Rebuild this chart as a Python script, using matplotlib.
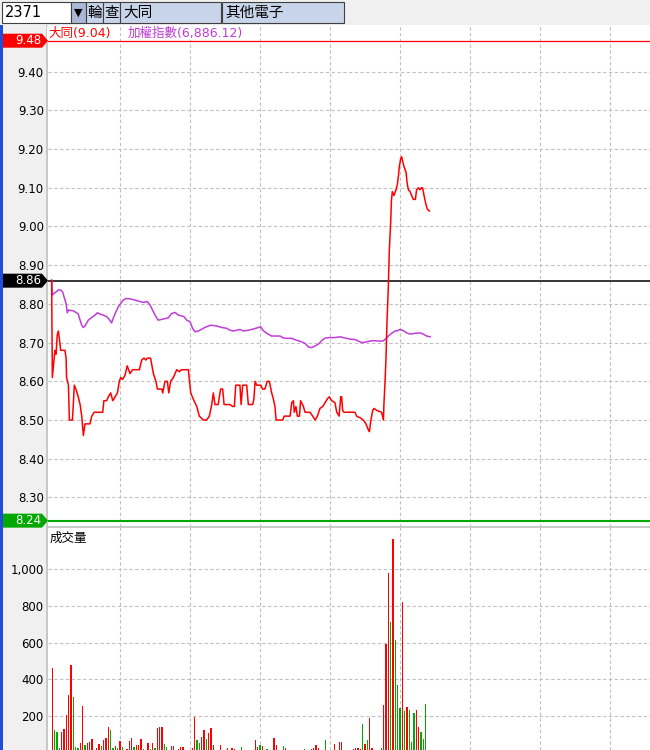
import matplotlib.pyplot as plt
from matplotlib.patches import Rectangle, Polygon
from matplotlib.lines import Line2D
from matplotlib.transforms import blended_transform_factory

plt.rcParams['font.family'] = ['DejaVu Sans', 'Noto Sans CJK TC']

W, H = 650, 750

# --- données (minutes depuis 9:00) ---
PREV_CLOSE = 8.86
LIMIT_UP = 9.48
LIMIT_DOWN = 8.24

TATUNG_MIN = [0.7, 1.0, 2.1, 2.6, 3.1, 3.6, 4.0, 4.6, 6.4, 6.9, 7.1, 7.9, 8.3, 9.6, 10.0, 10.4,
              11.1, 12.1, 12.9, 13.6, 14.0, 14.3, 15.0, 17.1, 17.9, 18.9, 22.6, 23.1, 24.3, 25.0,
              26.0, 26.9, 27.9, 28.9, 29.7, 30.3, 31.1, 32.1, 33.1, 34.3, 35.4, 38.3, 39.3, 40.3,
              41.1, 41.7, 43.1, 44.3, 45.4, 46.0, 47.9, 48.3, 49.3, 50.3, 50.9, 51.7, 52.9, 54.3,
              55.4, 56.4, 59.3, 60.3, 61.7, 62.9, 64.0, 65.7, 67.1, 68.3, 69.3, 70.0, 70.7, 72.1,
              73.1, 74.0, 74.6, 77.1, 78.3, 79.0, 79.6, 81.4, 81.9, 82.6, 84.3, 85.0, 86.9, 87.4,
              87.9, 88.6, 90.3, 91.1, 92.1, 93.1, 94.0, 95.0, 95.7, 96.4, 96.9, 99.7, 100.4, 102.9,
              103.6, 104.3, 104.7, 105.4, 106.0, 106.9, 107.4, 108.6, 109.3, 111.4, 112.6, 113.6,
              114.6, 115.7, 116.9, 117.9, 118.9, 119.7, 120.7, 122.1, 122.9, 123.9, 124.6, 125.0,
              125.4, 126.0, 130.7, 131.4, 133.1, 134.3, 135.4, 136.4, 136.9, 137.4, 138.3, 138.9,
              140.0, 142.1, 142.9, 143.1, 143.6, 144.0, 144.4, 145.0, 145.4, 146.0, 146.3, 146.7,
              147.4, 148.3, 148.9, 149.4, 149.7, 150.3, 150.7, 151.1, 151.7, 152.6, 153.1, 153.6,
              154.3, 155.0, 155.7, 156.6, 157.1, 157.9, 158.6, 159.3, 159.7, 160.3, 161.0, 161.7,
              162.6]
TATUNG_PRICE = [8.86, 8.61, 8.68, 8.67, 8.72, 8.73, 8.71, 8.68, 8.68, 8.66, 8.61, 8.59, 8.50, 8.50,
                8.54, 8.59, 8.58, 8.56, 8.54, 8.51, 8.48, 8.46, 8.49, 8.49, 8.51, 8.52, 8.52, 8.55,
                8.55, 8.56, 8.57, 8.55, 8.56, 8.57, 8.60, 8.61, 8.605, 8.615, 8.64, 8.62, 8.63, 8.63,
                8.655, 8.66, 8.655, 8.66, 8.66, 8.62, 8.60, 8.58, 8.58, 8.57, 8.60, 8.60, 8.57, 8.60,
                8.61, 8.63, 8.625, 8.63, 8.63, 8.57, 8.55, 8.535, 8.51, 8.50, 8.50, 8.51, 8.54, 8.57,
                8.54, 8.54, 8.58, 8.58, 8.54, 8.54, 8.535, 8.535, 8.59, 8.59, 8.54, 8.59, 8.59, 8.54,
                8.54, 8.555, 8.60, 8.59, 8.59, 8.58, 8.58, 8.60, 8.60, 8.57, 8.555, 8.535, 8.50, 8.50,
                8.51, 8.51, 8.545, 8.55, 8.52, 8.535, 8.51, 8.51, 8.55, 8.535, 8.52, 8.52, 8.51, 8.50,
                8.51, 8.53, 8.535, 8.545, 8.555, 8.56, 8.55, 8.545, 8.52, 8.51, 8.56, 8.56, 8.525,
                8.52, 8.52, 8.51, 8.505, 8.50, 8.49, 8.475, 8.47, 8.495, 8.525, 8.53, 8.525, 8.52,
                8.50, 8.54, 8.60, 8.66, 8.75, 8.845, 8.935, 9.01, 9.065, 9.09, 9.08, 9.095, 9.11,
                9.135, 9.155, 9.175, 9.18, 9.17, 9.155, 9.14, 9.11, 9.095, 9.09, 9.08, 9.07, 9.07,
                9.095, 9.10, 9.095, 9.10, 9.10, 9.08, 9.06, 9.045, 9.04]

INDEX_MIN = [0.7, 1.0, 1.7, 2.6, 3.6, 4.6, 5.4, 6.0, 6.9, 7.4, 7.9, 10.0, 11.4, 12.1, 12.9, 13.6,
             14.3, 15.0, 16.4, 17.9, 19.3, 20.3, 21.4, 22.9, 24.3, 25.4, 26.4, 27.1, 28.3, 29.3,
             30.3, 31.4, 32.6, 34.3, 36.4, 38.6, 40.0, 41.7, 42.9, 44.3, 45.4, 46.4, 48.6, 50.7,
             52.1, 53.6, 55.0, 56.4, 57.4, 58.6, 60.0, 61.1, 62.1, 63.6, 65.7, 67.1, 68.9, 71.4,
             73.6, 75.7, 77.1, 78.6, 80.0, 81.4, 82.9, 85.0, 87.1, 89.3, 90.3, 91.4, 92.9, 95.0,
             98.6, 100.0, 101.4, 103.6, 105.7, 107.9, 109.3, 110.7, 112.1, 113.6, 115.0, 116.6,
             118.0, 120.0, 122.1, 124.3, 126.4, 128.6, 130.7, 132.1, 133.6, 135.0, 137.1, 138.6,
             140.7, 142.6, 143.6, 145.0, 146.4, 147.9, 149.0, 149.9, 151.4, 152.9, 154.3, 156.4,
             158.6, 160.0, 161.4, 162.9]
INDEX_VAL = [8.862, 8.823, 8.827, 8.831, 8.836, 8.836, 8.831, 8.819, 8.801, 8.777, 8.784, 8.782,
             8.777, 8.774, 8.758, 8.745, 8.739, 8.743, 8.758, 8.765, 8.771, 8.777, 8.774, 8.771,
             8.767, 8.760, 8.751, 8.763, 8.780, 8.793, 8.801, 8.810, 8.814, 8.813, 8.810, 8.806,
             8.804, 8.806, 8.797, 8.780, 8.767, 8.758, 8.761, 8.764, 8.775, 8.778, 8.771, 8.769,
             8.767, 8.758, 8.754, 8.737, 8.728, 8.730, 8.737, 8.741, 8.745, 8.743, 8.739, 8.737,
             8.732, 8.730, 8.732, 8.734, 8.730, 8.732, 8.735, 8.739, 8.741, 8.731, 8.724, 8.717,
             8.717, 8.712, 8.711, 8.711, 8.706, 8.702, 8.698, 8.689, 8.687, 8.691, 8.696, 8.706,
             8.712, 8.713, 8.713, 8.715, 8.712, 8.709, 8.708, 8.704, 8.700, 8.701, 8.704, 8.705,
             8.704, 8.704, 8.708, 8.717, 8.724, 8.730, 8.731, 8.734, 8.731, 8.725, 8.722, 8.724,
             8.725, 8.722, 8.717, 8.715]

VOL_MIN = [1, 2, 3, 4, 5, 6, 7, 8, 9, 10, 11, 12, 13, 14, 15, 16, 17, 18, 20, 21, 22, 23, 24, 25,
           26, 27, 28, 29, 30, 31, 33, 34, 35, 36, 37, 38, 39, 40, 42, 43, 44, 45, 46, 47, 48, 49,
           50, 52, 53, 55, 56, 57, 61, 62, 63, 64, 65, 66, 67, 68, 69, 70, 73, 76, 78, 79, 82, 88,
           89, 90, 91, 93, 96, 97, 100, 101, 109, 112, 113, 114, 115, 118, 122, 124, 125, 130, 131,
           132, 133, 134, 135, 136, 137, 138, 142, 143, 144, 145, 146, 147, 148, 149, 150, 151,
           152, 153, 154, 155, 156, 157, 158, 159, 160, 161]
VOL = [460, 124, 113, 27, 113, 129, 205, 314, 478, 303, 31, 27, 53, 254, 42, 53, 58, 75, 26, 47,
       36, 69, 80, 140, 124, 26, 36, 26, 64, 31, 20, 64, 80, 31, 42, 42, 75, 20, 53, 20, 53, 26,
       135, 140, 140, 47, 31, 36, 36, 20, 31, 31, 26, 196, 69, 53, 86, 124, 75, 107, 135, 42, 42,
       26, 26, 20, 31, 69, 31, 42, 36, 20, 80, 42, 36, 26, 20, 20, 26, 42, 26, 69, 48, 58, 58, 20,
       26, 26, 20, 156, 48, 69, 189, 26, 26, 260, 592, 979, 712, 1165, 614, 369, 244, 821, 228,
       249, 233, 58, 216, 233, 140, 113, 75, 265]
VOL_SIDE = list('rgggrrrrrgggrrgrrrrrgrrrggrgrgrrrgrrrgrgrgrrrggrrrrrrrggrrgrrrrrrrgrrgrgrrgrgrrrrgrrrrrrr'
                'grgrrgrrrgrgggrgrgggrrgggr')

TICKS_PRIX = [8.30, 8.40, 8.50, 8.60, 8.70, 8.80, 8.90, 9.00, 9.10, 9.20, 9.30, 9.40]
TICKS_VOL = [200, 400, 600, 800, 1000]
GRID_MIN = [30, 60, 90, 120, 150, 180, 210, 240]

ROUGE = '#ff0000'
VERT = '#00a800'
VIOLET = '#c03cd8'
GRILLE = '#c0c0c0'


def fx(px):
    return px / W


def fy(py):
    return 1 - py / H


fig = plt.figure(figsize=(6.5, 7.5), dpi=100)
fig.patch.set_facecolor('white')

# panneau gauche + en-tête (derrière les axes)
fig.add_artist(Rectangle((0, 0), fx(48), fy(25), transform=fig.transFigure,
                         facecolor='#f0f0f0', edgecolor='none', zorder=-3))
fig.add_artist(Rectangle((fx(46), 0), fx(2), fy(25), transform=fig.transFigure,
                         facecolor='#c8c8c8', edgecolor='none', zorder=-2))
fig.add_artist(Rectangle((0, 0), fx(3), fy(25), transform=fig.transFigure,
                         facecolor='#1f4fd8', edgecolor='none', zorder=-2))
fig.add_artist(Rectangle((0, fy(25)), 1, 1 - fy(25), transform=fig.transFigure,
                         facecolor='#f0f0f0', edgecolor='none', zorder=-3))

cellules = [(2, 71, '2371', 'white', 'left'), (71, 86, '▼', '#aab8d8', 'center'),
            (86, 103, '輪', '#c8d4ea', 'center'), (103, 120, '查', '#c8d4ea', 'center'),
            (120, 221, '大同', '#c8d4ea', 'left'), (222, 344, '其他電子', '#c8d4ea', 'left')]
for x0, x1, txt, fc, ha in cellules:
    fig.add_artist(Rectangle((fx(x0), fy(23)), fx(x1 - x0), fy(2) - fy(23),
                             transform=fig.transFigure, facecolor=fc, edgecolor='#404040',
                             linewidth=0.8, zorder=1))
    tx = fx(x0 + 3) if ha == 'left' else fx((x0 + x1) / 2)
    fig.text(tx, fy(12.5), txt, ha=ha, va='center', fontsize=10.5 if txt != '▼' else 8,
             color='black', zorder=2)

# --- prix ---
ax_p = fig.add_axes([fx(48), fy(527), fx(602), fy(26) - fy(527)])
ax_v = fig.add_axes([fx(48), fy(750), fx(602), fy(527) - fy(750)])

for ax in (ax_p, ax_v):
    ax.set_xlim(-0.857, 257.14)
    for s in ax.spines.values():
        s.set_visible(False)
    ax.set_xticks(GRID_MIN)
    ax.tick_params(axis='x', length=0, labelbottom=False)
    ax.tick_params(axis='y', length=0, pad=3, labelsize=8.5)
    ax.grid(True, color=GRILLE, linestyle=(0, (3, 2.2)), linewidth=0.8)
    ax.set_axisbelow(True)

ax_p.set_ylim(8.2236, 9.518)
ax_p.set_yticks(TICKS_PRIX)
ax_p.set_yticklabels([f'{t:.2f}' for t in TICKS_PRIX])

ax_p.axhline(LIMIT_UP, color=ROUGE, linewidth=0.9, zorder=2)
ax_p.axhline(PREV_CLOSE, color='black', linewidth=1.1, zorder=2)
ax_p.axhline(LIMIT_DOWN, color=VERT, linewidth=1.5, zorder=2)

ax_p.plot(INDEX_MIN, INDEX_VAL, color=VIOLET, linewidth=1.1, zorder=3)
ax_p.plot(TATUNG_MIN, TATUNG_PRICE, color=ROUGE, linewidth=1.1, zorder=4)

tr = blended_transform_factory(fig.transFigure, ax_p.transData)
demi = 7 / 387
for val, coul in [(LIMIT_UP, ROUGE), (PREV_CLOSE, 'black'), (LIMIT_DOWN, VERT)]:
    fig.add_artist(Polygon([(fx(3), val - demi), (fx(42), val - demi), (fx(48), val),
                            (fx(42), val + demi), (fx(3), val + demi)], closed=True,
                           transform=tr, facecolor=coul, edgecolor='none', zorder=3))
    fig.text(fx(41), val, f'{val:.2f}', transform=tr, ha='right', va='center',
             color='white', fontsize=8.5, zorder=4)

fig.text(fx(48), fy(33), '大同(9.04)', ha='left', va='center', color=ROUGE, fontsize=9,
         bbox=dict(facecolor='white', edgecolor='none', pad=0.5), zorder=5)
fig.text(fx(128), fy(33), '加權指數(6,886.12)', ha='left', va='center', color=VIOLET,
         fontsize=9, bbox=dict(facecolor='white', edgecolor='none', pad=0.5), zorder=5)

# --- volume ---
ax_v.set_ylim(14.7, 1230)
ax_v.set_yticks(TICKS_VOL)
ax_v.set_yticklabels([f'{t:,}' for t in TICKS_VOL])
couleurs = [ROUGE if c == 'r' else VERT for c in VOL_SIDE]
ax_v.bar(VOL_MIN, VOL, width=0.45, color=couleurs, zorder=3)
ax_v.text(0, 1170, '成交量', ha='left', va='center', fontsize=9, color='black')

fig.add_artist(Line2D([fx(48), 1], [fy(527), fy(527)], transform=fig.transFigure,
                      color='#c0c0c0', linewidth=1.2, zorder=3))

fig.savefig('out.png', dpi=100)
